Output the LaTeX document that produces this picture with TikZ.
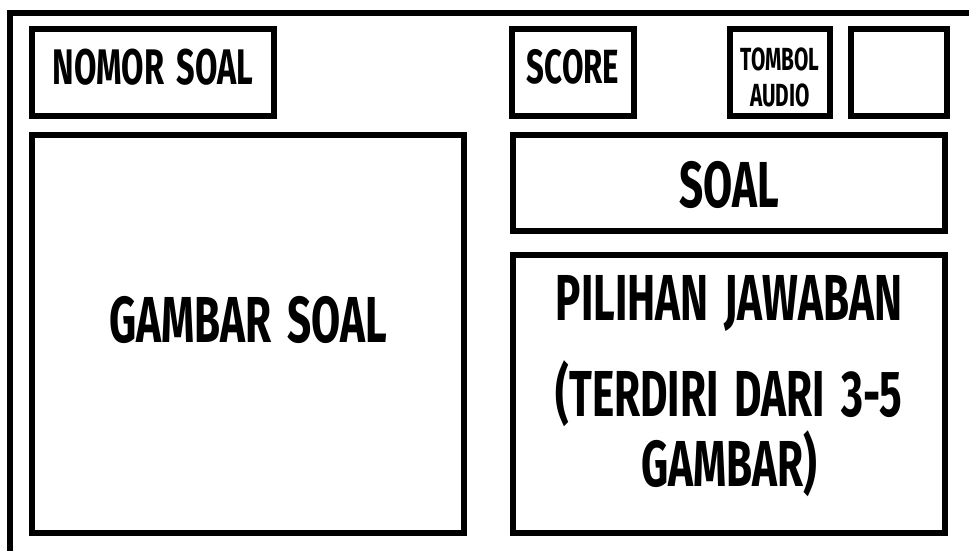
\documentclass[tikz,border=0pt]{standalone}
\usepackage{fontspec}
\newfontfamily\wireframefont[FakeStretch=0.65, WordSpace=1.6]{Fira Sans}
\usepackage{tikz}
\usetikzlibrary{positioning}

\begin{document}
\begin{tikzpicture}[
        x=1pt, y=-1pt,
        box/.style={rectangle, draw=black, line width=6pt, fill=white,
                    inner sep=0pt, outer sep=0pt},
        lbl/.style={inner sep=0pt, align=center,
                    font=\wireframefont\bfseries},
        frame/.style={line width=6pt}
      ]
      \useasboundingbox (0,0) rectangle (969,551);
      % outer frame (cut off at right and bottom)
      \coordinate (fbl) at (10,551);
      \coordinate (ftl) at (10,13);
      \coordinate (ftr) at (969,13);
      \draw[frame] (fbl) -- (ftl) -- (ftr);
      % top row
      \node[box, minimum width=242pt, minimum height=87pt] (nomor) at (153,72.5) {};
      \node[box, minimum width=122pt, minimum height=87pt] (score) at (573,72.5) {};
      \node[box, minimum width=100pt, minimum height=87pt] (tombol) at (780,72.5) {};
      \node[box, minimum width=96pt, minimum height=87pt] (kosong) at (899,72.5) {};
      % main areas
      \node[box, minimum width=432pt, minimum height=398pt] (gambar) at (248,334) {};
      \node[box, minimum width=432pt, minimum height=96pt] (soal) at (729,183) {};
      \node[box, minimum width=432pt, minimum height=278pt] (pilihan) at (729,394) {};
      % labels
      \node[lbl, font=\wireframefont\bfseries\fontsize{50}{56}\selectfont]
            (nomortxt) at ([yshift=5pt]nomor.center) {NOMOR SOAL};
      \node[lbl, font=\wireframefont\bfseries\fontsize{48}{56}\selectfont]
            (scoretxt) at ([yshift=6pt]score.center) {SCORE};
      \node[lbl, font=\wireframefont\bfseries\fontsize{32}{36}\selectfont]
            (tomboltxt) at ([yshift=-4.5pt]tombol.center) {TOMBOL\\AUDIO};
      \node[lbl, font=\wireframefont\bfseries\fontsize{65}{70}\selectfont]
            (soaltxt) at ([yshift=-1.5pt]soal.center) {SOAL};
      \node[lbl, font=\wireframefont\bfseries\fontsize{65}{70}\selectfont]
            (gambartxt) at ([yshift=14pt]gambar.center) {GAMBAR SOAL};
      \node[lbl, font=\wireframefont\bfseries\fontsize{65}{70}\selectfont]
            (pilihantxt) at ([yshift=8pt]pilihan.center)
            {PILIHAN JAWABAN\\[26pt](TERDIRI DARI 3-5\\GAMBAR)};
    \end{tikzpicture}
\end{document}
